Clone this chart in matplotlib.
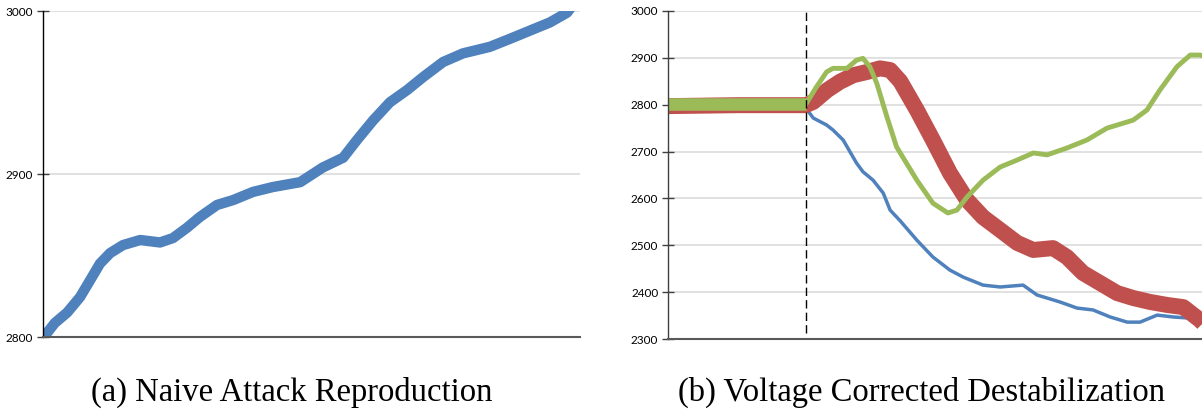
import matplotlib as mpl
mpl.use('Agg')
from matplotlib import pyplot as plt

# (a) naive attack reproduction
naive_x = [0, 4, 22, 45, 69, 88, 106, 125, 149, 181, 218, 242, 268, 292, 324, 354,
           391, 428, 479, 521, 559, 585, 615, 646, 678, 708, 745, 782, 832, 870,
           907, 944, 976, 985]
naive_y = [2800, 2801, 2808.6, 2815, 2824.5, 2835, 2845, 2851.5, 2856.4, 2859.5,
           2858, 2860.7, 2867, 2873.6, 2881, 2884, 2889, 2892, 2895, 2904, 2910,
           2921, 2933, 2944, 2951.5, 2959.5, 2968.7, 2974, 2978, 2983, 2988, 2993,
           2999, 3003]

# (b) voltage corrected destabilization
corr_start = 258

blue_x = [255, 260, 272, 297, 309, 328, 353, 365, 384, 403, 416, 435, 466, 496, 528,
          553, 590, 622, 665, 691, 734, 766, 796, 828, 860, 884, 916, 946, 972, 996]
blue_y = [2795, 2790, 2771.6, 2756.7, 2746, 2724.7, 2675.6, 2657, 2639, 2611.5,
          2575, 2552, 2511, 2475, 2447, 2432, 2415, 2411, 2415, 2394, 2379, 2366,
          2362, 2347, 2336, 2336, 2351, 2347, 2345, 2345]

red_x = [0, 130, 258, 272, 298, 322, 347, 373, 397, 416, 435, 466, 496, 528, 560,
         590, 622, 654, 684, 721, 747, 777, 809, 841, 871, 903, 935, 965, 996, 1005]
red_y = [2797, 2799, 2799, 2806, 2831, 2849, 2863, 2870, 2877.6, 2874, 2850, 2788.7,
         2724.7, 2654, 2596.6, 2560, 2532.6, 2505, 2490, 2494, 2475, 2441, 2419.5,
         2398, 2387.5, 2379, 2372.6, 2368, 2340.5, 2330]

green_pre_x = [0, 130, 258]
green_pre_y = [2801, 2801, 2801]
green_x = [258, 278, 297, 309, 335, 353, 365, 378, 391, 410, 428, 466, 496, 524,
           541, 560, 590, 622, 654, 684, 710, 747, 785, 822, 871, 897, 921, 953,
           978, 996, 1005]
green_y = [2801, 2838, 2870, 2877.6, 2877.6, 2895, 2899, 2881, 2845.7, 2774, 2710,
           2639, 2590, 2569, 2575, 2603, 2639, 2667, 2682, 2697, 2693, 2707.6, 2725,
           2750, 2767, 2788.7, 2831, 2881, 2906, 2906, 2903]

left_ticks = [2800, 2900, 3000]
right_ticks = [2300, 2400, 2500, 2600, 2700, 2800, 2900, 3000]

BLUE = '#4F81BD'
RED = '#C0504D'
GREEN = '#9BBB59'


def style_axes(ax, ticks, spine_color):
    ax.set_ylim(ticks[0], ticks[-1])
    ax.set_xlim(0, 1000)
    ax.set_yticks(ticks)
    ax.set_xticks([])
    ax.grid(axis='y', color='#D9D9D9', linewidth=1.1)
    ax.set_axisbelow(True)
    for s in ['top', 'right']:
        ax.spines[s].set_visible(False)
    ax.spines['left'].set_color(spine_color)
    ax.spines['left'].set_linewidth(1.0)
    ax.spines['bottom'].set_color('#595959')
    ax.spines['bottom'].set_linewidth(1.5)
    ax.tick_params(axis='y', direction='inout', length=8, width=1.0,
                   color='#404040', pad=3, labelsize=8.5)
    for lab in ax.get_yticklabels():
        lab.set_fontfamily('Lato')


def main():
    fig = plt.figure(figsize=(12.02, 4.15), dpi=100)
    ax1 = fig.add_axes([43 / 1202, 1 - 337 / 415, (580 - 43) / 1202, (337 - 11) / 415])
    ax2 = fig.add_axes([668 / 1202, 1 - 339 / 415, (1202 - 668) / 1202, (339 - 11) / 415])

    ax1.plot(naive_x, naive_y, color=BLUE, linewidth=7.5, solid_joinstyle='round')
    style_axes(ax1, left_ticks, 'black')

    ax2.plot(blue_x, blue_y, color=BLUE, linewidth=2.5, solid_joinstyle='round')
    ax2.plot(red_x, red_y, color=RED, linewidth=11.5, solid_joinstyle='round',
             solid_capstyle='butt')
    ax2.plot(green_pre_x, green_pre_y, color=GREEN, linewidth=9, solid_capstyle='butt')
    ax2.plot(green_x, green_y, color=GREEN, linewidth=3.5, solid_joinstyle='round')
    ax2.vlines(corr_start, 2312, 3000, colors='black', linewidth=1.0,
               linestyles=(0, (6, 3)))
    style_axes(ax2, right_ticks, '#404040')

    cap = dict(fontfamily='Liberation Serif', fontsize=23.5, ha='center', va='center')
    fig.text(292 / 1202, 1 - 392 / 415, '(a) Naive Attack Reproduction', **cap)
    fig.text(922 / 1202, 1 - 392 / 415, '(b) Voltage Corrected Destabilization', **cap)

    fig.savefig('out.png', dpi=100)


if __name__ == '__main__':
    main()
